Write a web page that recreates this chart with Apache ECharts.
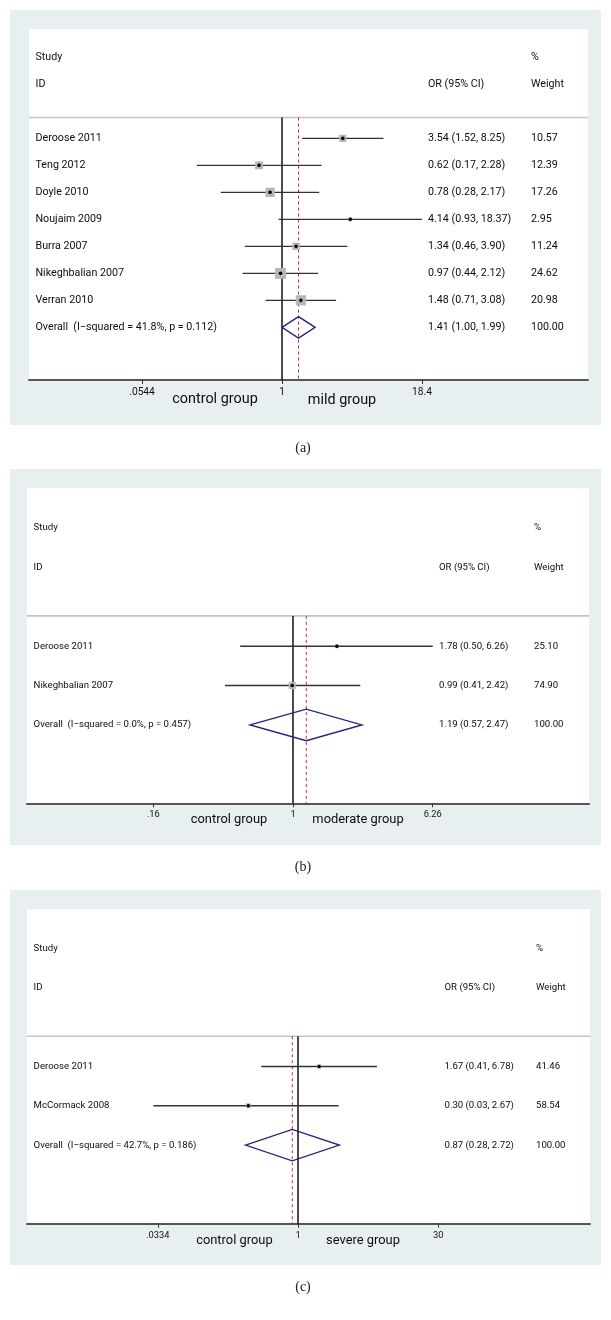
<!DOCTYPE html>
<html><head><meta charset="utf-8">
<script src="https://cdn.jsdelivr.net/npm/echarts@6/dist/echarts.min.js"></script>
<style>html,body{margin:0;padding:0;background:#fff}#c{width:611px;height:1320px}</style>
</head><body><div id="c"></div>
<script>
// ---------- Panel (a): control vs mild ----------
const studiesA = ['Deroose 2011','Teng 2012','Doyle 2010','Noujaim 2009','Burra 2007','Nikeghbalian 2007','Verran 2010'];
const orA      = [3.54, 0.62, 0.78, 4.14, 1.34, 0.97, 1.48];
const lowA     = [1.52, 0.17, 0.28, 0.93, 0.46, 0.44, 0.71];
const highA    = [8.25, 2.28, 2.17, 18.37, 3.90, 2.12, 3.08];
const weightA  = [10.57, 12.39, 17.26, 2.95, 11.24, 24.62, 20.98];
const overallLabelA = 'Overall  (I\u2212squared = 41.8%, p = 0.112)';
const overallA = [1.41, 1.00, 1.99, 100.00];   // OR, low, high, weight
const ticksA = [0.0544, 1, 18.4];
const tickLabelsA = ['.0544', '1', '18.4'];
const groupsA = ['control group', 'mild group'];

// ---------- Panel (b): control vs moderate ----------
const studiesB = ['Deroose 2011','Nikeghbalian 2007'];
const orB      = [1.78, 0.99];
const lowB     = [0.50, 0.41];
const highB    = [6.26, 2.42];
const weightB  = [25.10, 74.90];
const overallLabelB = 'Overall  (I\u2212squared = 0.0%, p = 0.457)';
const overallB = [1.19, 0.57, 2.47, 100.00];
const ticksB = [0.16, 1, 6.26];
const tickLabelsB = ['.16', '1', '6.26'];
const groupsB = ['control group', 'moderate group'];

// ---------- Panel (c): control vs severe ----------
const studiesC = ['Deroose 2011','McCormack 2008'];
const orC      = [1.67, 0.30];
const lowC     = [0.41, 0.03];
const highC    = [6.78, 2.67];
const weightC  = [41.46, 58.54];
const overallLabelC = 'Overall  (I\u2212squared = 42.7%, p = 0.186)';
const overallC = [0.87, 0.28, 2.72, 100.00];
const ticksC = [0.0334, 1, 30];
const tickLabelsC = ['.0334', '1', '30'];
const groupsC = ['control group', 'severe group'];

const captions = ['(a)', '(b)', '(c)'];
const headerStudy = 'Study', headerID = 'ID', headerOR = 'OR (95% CI)', headerPct = '%', headerWeight = 'Weight';

// ---------- layout (pixels / axis extents) ----------
const panels = [
  {studies:studiesA, or:orA, low:lowA, high:highA, weight:weightA, overallLabel:overallLabelA, overall:overallA,
   ticks:ticksA, tickLabels:tickLabelsA, groups:groupsA,
   bg:[10,10,591,415], left:29, right:23, top:29, axisY:380, xMin:-5.262, xMax:6.364, yMin:-4.05, yMax:8.95,
   nameX:35.5, orX:428, wX:531, font:10.7, tickFont:10.2, groupFont:14.4, boxK:2.22,
   groupPos:[[215,399],[342,400]], captionY:448},
  {studies:studiesB, or:orB, low:lowB, high:highB, weight:weightB, overallLabel:overallLabelB, overall:overallB,
   ticks:ticksB, tickLabels:tickLabelsB, groups:groupsB,
   bg:[10,469,591,376], left:27, right:22, top:488.3, axisY:803.3, xMin:-3.491, xMax:3.885, yMin:-4.01, yMax:3.99,
   nameX:33.6, orX:439, wX:534, font:9.6, tickFont:9.3, groupFont:12.9, boxK:0.81,
   groupPos:[[229,820],[358,820]], captionY:867},
  {studies:studiesC, or:orC, low:lowC, high:highC, weight:weightC, overallLabel:overallLabelC, overall:overallC,
   ticks:ticksC, tickLabels:tickLabelsC, groups:groupsC,
   bg:[10,890,591,375], left:27, right:21, top:909.3, axisY:1223.7, xMin:-6.570, xMax:7.079, yMin:-4.0, yMax:4.0,
   nameX:33.6, orX:444.5, wX:536, font:9.6, tickFont:9.3, groupFont:12.9, boxK:0.65,
   groupPos:[[234.4,1240.7],[363,1241]], captionY:1287.3}
];

const FONT = 'Roboto';
const HEADER_ROW = -0.77;
const fmt2 = v => v.toFixed(2);

const grids = [], xAxes = [], yAxes = [], series = [], graphics = [];

panels.forEach((p, i) => {
  grids.push({left:p.left, right:p.right, top:p.top, height:p.axisY - p.top,
    show:true, backgroundColor:'#ffffff', borderWidth:0, containLabel:false});

  // row labels: value -> rich string
  const labelMap = {};
  labelMap['-3'] = `{n|${headerStudy}}{o| }{w|${headerPct}}`;
  labelMap['-2'] = `{n|${headerID}}{o|${headerOR}}{w|${headerWeight}}`;
  p.studies.forEach((s, k) => {
    labelMap[String(k)] = `{n|${s}}{o|${fmt2(p.or[k])} (${fmt2(p.low[k])}, ${fmt2(p.high[k])})}{w|${fmt2(p.weight[k])}}`;
  });
  const ovRow = p.studies.length;
  labelMap[String(ovRow)] = `{n|${p.overallLabel}}{o|${fmt2(p.overall[0])} (${fmt2(p.overall[1])}, ${fmt2(p.overall[2])})}{w|${fmt2(p.overall[3])}}`;
  const rowValues = [-3, -2].concat(p.studies.map((s, k) => k)).concat([ovRow]);

  const txt = {fontFamily:FONT, fontSize:p.font, color:'#0d0d0d'};
  yAxes.push({gridIndex:i, type:'value', inverse:true, min:p.yMin, max:p.yMax,
    axisLine:{show:false, onZero:false}, axisTick:{show:false}, splitLine:{show:false},
    axisLabel:{show:true, inside:true, customValues:rowValues, margin:p.nameX - p.left, align:'left',
      formatter: v => labelMap[String(v)] || '',
      rich:{ n:Object.assign({width:p.orX - p.nameX, align:'left'}, txt),
             o:Object.assign({width:p.wX - p.orX, align:'left'}, txt),
             w:Object.assign({align:'left'}, txt) } }});

  const tickVals = p.ticks.map(Math.log);
  xAxes.push({gridIndex:i, type:'value', min:p.xMin, max:p.xMax,
    axisLine:{show:true, onZero:false, lineStyle:{color:'#555555', width:2}},
    axisTick:{show:true, customValues:tickVals, length:4, lineStyle:{color:'#333', width:1}},
    axisLabel:{show:true, customValues:tickVals, margin:7, fontFamily:FONT, fontSize:p.tickFont, color:'#111',
      formatter: v => { const k = tickVals.findIndex(t => Math.abs(t - v) < 1e-9); return k >= 0 ? p.tickLabels[k] : ''; }},
    splitLine:{show:false}});

  // reference lines (header rule, no-effect line, pooled dashed line)
  series.push({type:'custom', xAxisIndex:i, yAxisIndex:i, z:1, silent:true, clip:false,
    data:[[Math.log(p.overall[0])]],
    renderItem:(params, api) => {
      const cs = params.coordSys;
      const pooled = api.value(0);
      const hTop = api.coord([0, HEADER_ROW]);
      const v0 = api.coord([0, p.yMax]);
      const pd = api.coord([pooled, HEADER_ROW]);
      return {type:'group', children:[
        {type:'line', shape:{x1:cs.x, y1:hTop[1], x2:cs.x + cs.width, y2:hTop[1]}, style:{stroke:'#c4c4c4', lineWidth:1.6}},
        {type:'line', shape:{x1:pd[0], y1:hTop[1], x2:pd[0], y2:v0[1]}, style:{stroke:'#9c3c44', lineWidth:1, lineDash:[3,3]}},
        {type:'line', shape:{x1:hTop[0], y1:hTop[1], x2:v0[0], y2:v0[1]}, style:{stroke:'#111', lineWidth:1.5}}
      ]};
    }});

  // study estimates + overall diamond
  const data = p.studies.map((s, k) => [Math.log(p.or[k]), k, Math.log(p.low[k]), Math.log(p.high[k]), p.weight[k], 0]);
  data.push([Math.log(p.overall[0]), ovRow, Math.log(p.overall[1]), Math.log(p.overall[2]), p.overall[3], 1]);
  series.push({type:'custom', xAxisIndex:i, yAxisIndex:i, z:3, silent:true, clip:false,
    encode:{x:0, y:1}, data:data,
    renderItem:(params, api) => {
      const x = api.value(0), row = api.value(1), lo = api.value(2), hi = api.value(3), w = api.value(4), kind = api.value(5);
      const c = api.coord([x, row]), cl = api.coord([lo, row]), ch = api.coord([hi, row]);
      if (kind === 1) {
        const t = api.coord([x, row - 0.4]), b = api.coord([x, row + 0.4]);
        return {type:'polygon', shape:{points:[cl, t, ch, b]}, style:{fill:'none', stroke:'#25257a', lineWidth:1.4}};
      }
      const s = p.boxK * Math.sqrt(w);
      return {type:'group', children:[
        {type:'line', shape:{x1:cl[0], y1:cl[1], x2:ch[0], y2:ch[1]}, style:{stroke:'#333', lineWidth:1.4}},
        {type:'rect', shape:{x:c[0] - s/2, y:c[1] - s/2, width:s, height:s}, style:{fill:'#b6b6b6'}},
        {type:'circle', shape:{cx:c[0], cy:c[1], r:1.8}, style:{fill:'#000'}}
      ]};
    }});

  // panel background, group labels, caption
  graphics.push({type:'rect', z:-100, silent:true, shape:{x:p.bg[0], y:p.bg[1], width:p.bg[2], height:p.bg[3]}, style:{fill:'#e8eff1'}});
  p.groups.forEach((g, k) => {
    graphics.push({type:'text', z:50, silent:true, x:p.groupPos[k][0], y:p.groupPos[k][1],
      style:{text:g, fontFamily:FONT, fontSize:p.groupFont, fill:'#0d0d0d', align:'center', verticalAlign:'middle'}});
  });
  graphics.push({type:'text', z:50, silent:true, x:303, y:p.captionY,
    style:{text:captions[i], fontFamily:'Liberation Serif', fontSize:14, fill:'#222', align:'center', verticalAlign:'middle'}});
});

const chart = echarts.init(document.getElementById('c'), null, {renderer:'canvas', width:611, height:1320});
chart.setOption({
  animation:false,
  backgroundColor:'#ffffff',
  grid:grids, xAxis:xAxes, yAxis:yAxes, series:series,
  graphic:{elements:graphics}
});
</script>
</body></html>
